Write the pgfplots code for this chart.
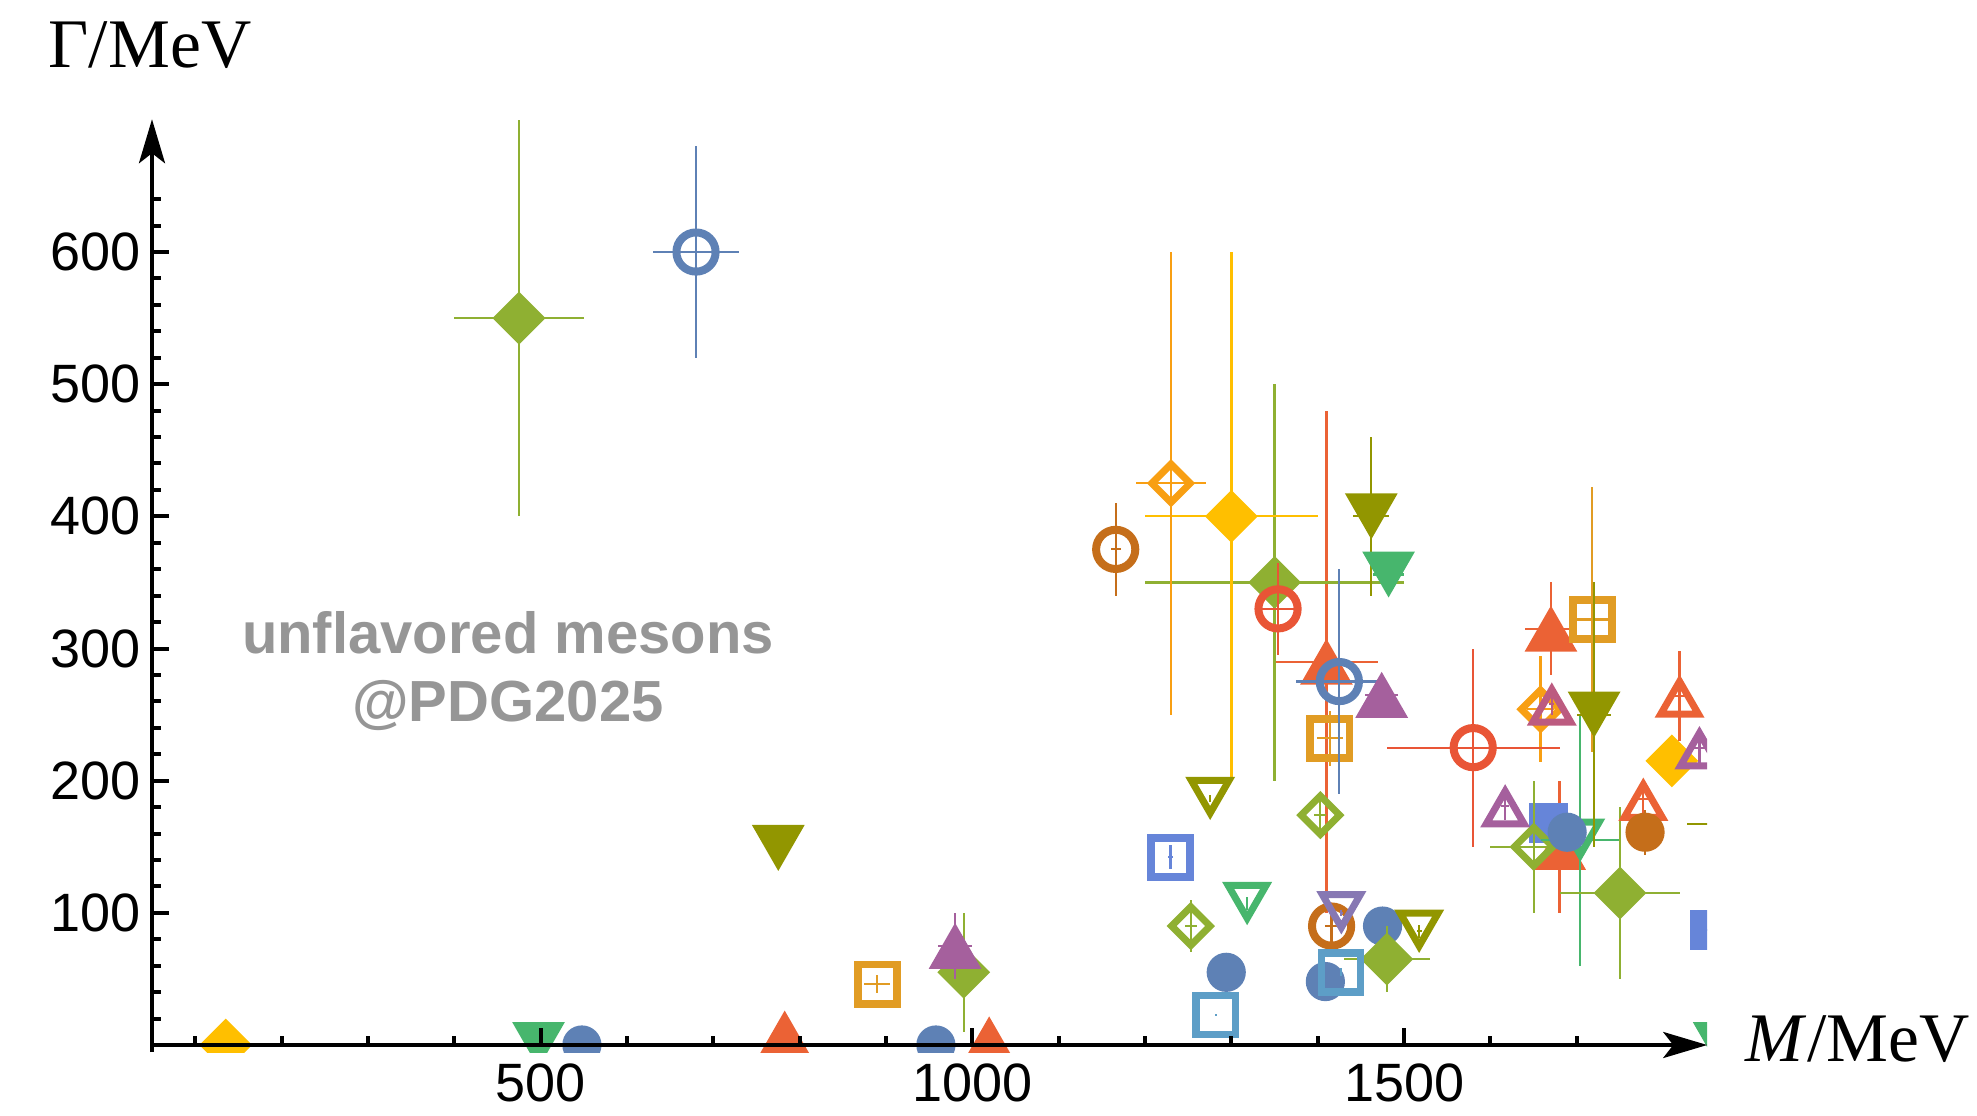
\documentclass[border=0pt]{standalone}
\usepackage{fontspec}
\setmainfont{Liberation Sans}
\newfontfamily\timesfont{Liberation Serif}
\usepackage{pgfplots}
\pgfplotsset{compat=1.18}
\usetikzlibrary{arrows.meta}

\definecolor{cBlue}{rgb}{0.368417,0.506779,0.709798}
\definecolor{cOrange}{rgb}{0.880722,0.611041,0.142051}
\definecolor{cGreen}{rgb}{0.560181,0.691569,0.194885}
\definecolor{cRed}{rgb}{0.922526,0.385626,0.209179}
\definecolor{cPurple}{rgb}{0.528488,0.470624,0.701351}
\definecolor{cBrown}{rgb}{0.772079,0.431554,0.102387}
\definecolor{cLBlue}{rgb}{0.363898,0.618501,0.782349}
\definecolor{cYellow}{rgb}{1,0.75,0}
\definecolor{cMag}{rgb}{0.647624,0.37816,0.614037}
\definecolor{cOlive}{rgb}{0.571589,0.586483,0}
\definecolor{cRedB}{rgb}{0.915,0.3325,0.2125}
\definecolor{cBlueB}{rgb}{0.400822,0.522007,0.85}
\definecolor{cOrangeB}{rgb}{0.972829,0.621644,0.073362}
\definecolor{cPink}{rgb}{0.736783,0.358,0.503027}
\definecolor{cGreenB}{rgb}{0.280264,0.715,0.429209}
\definecolor{textgray}{RGB}{150,150,150}

% filled marks
\pgfdeclareplotmark{fcirc}{\pgfpathcircle{\pgfpointorigin}{4.9pt}\pgfusepathqfill}
\pgfdeclareplotmark{fsq}{\pgfpathrectangle{\pgfpoint{-4.95pt}{-4.95pt}}{\pgfpoint{9.9pt}{9.9pt}}\pgfusepathqfill}
\pgfdeclareplotmark{fdiam}{\pgfpathmoveto{\pgfpoint{0pt}{6.6pt}}\pgfpathlineto{\pgfpoint{6.6pt}{0pt}}\pgfpathlineto{\pgfpoint{0pt}{-6.6pt}}\pgfpathlineto{\pgfpoint{-6.6pt}{0pt}}\pgfpathclose\pgfusepathqfill}
\pgfdeclareplotmark{futri}{\pgfpathmoveto{\pgfpoint{0pt}{5.75pt}}\pgfpathlineto{\pgfpoint{6.6pt}{-5.75pt}}\pgfpathlineto{\pgfpoint{-6.6pt}{-5.75pt}}\pgfpathclose\pgfusepathqfill}
\pgfdeclareplotmark{fdtri}{\pgfpathmoveto{\pgfpoint{0pt}{-5.75pt}}\pgfpathlineto{\pgfpoint{6.6pt}{5.75pt}}\pgfpathlineto{\pgfpoint{-6.6pt}{5.75pt}}\pgfpathclose\pgfusepathqfill}
% open marks
\pgfdeclareplotmark{ocirc}{\pgfsetlinewidth{2pt}\pgfpathcircle{\pgfpointorigin}{4.9pt}\pgfusepathqstroke}
\pgfdeclareplotmark{osq}{\pgfsetlinewidth{1.9pt}\pgfsetmiterjoin\pgfpathrectangle{\pgfpoint{-4.9pt}{-4.9pt}}{\pgfpoint{9.8pt}{9.8pt}}\pgfusepathqstroke}
\pgfdeclareplotmark{odiam}{\pgfsetlinewidth{1.75pt}\pgfsetmiterjoin\pgfpathmoveto{\pgfpoint{0pt}{4.8pt}}\pgfpathlineto{\pgfpoint{4.8pt}{0pt}}\pgfpathlineto{\pgfpoint{0pt}{-4.8pt}}\pgfpathlineto{\pgfpoint{-4.8pt}{0pt}}\pgfpathclose\pgfusepathqstroke}
\pgfdeclareplotmark{outri}{\pgfsetlinewidth{1.75pt}\pgfsetmiterjoin\pgfpathmoveto{\pgfpoint{0pt}{3.66pt}}\pgfpathlineto{\pgfpoint{4.73pt}{-4.53pt}}\pgfpathlineto{\pgfpoint{-4.73pt}{-4.53pt}}\pgfpathclose\pgfusepathqstroke}
\pgfdeclareplotmark{odtri}{\pgfsetlinewidth{1.75pt}\pgfsetmiterjoin\pgfpathmoveto{\pgfpoint{0pt}{-3.66pt}}\pgfpathlineto{\pgfpoint{4.73pt}{4.53pt}}\pgfpathlineto{\pgfpoint{-4.73pt}{4.53pt}}\pgfpathclose\pgfusepathqstroke}

\pgfplotsset{
  eb/.style={only marks, mark options={solid},
    error bars/x dir=both, error bars/x explicit,
    error bars/y dir=both, error bars/y explicit,
    error bars/error mark=none,
    error bars/error bar style={line width=0.55pt}},
}

\begin{document}
\begin{tikzpicture}
\useasboundingbox (-38pt,-15.75pt) rectangle (456.25pt,263pt);
% points just beyond the right limit: drawn in a wider, hidden axis of the same scale, clipped to the main axis box
\begin{scope}
\clip (0pt,0pt) rectangle (388.8pt,233.2pt);
\begin{axis}[
  at={(0pt,0pt)}, anchor=south west,
  scale only axis, width=399.378pt, height=233.2pt,
  xmin=50, xmax=1900, ymin=-5.3, ymax=700.5,
  hide axis, clip=false,
]
\addplot[eb, color=cBlueB, mark=fsq] table[x=x,y=y,x error=ex,y error=ey]{
x y ex ey
1854 87 7 28
};
\addplot[eb, color=cGreenB, mark=fdtri] table[x=x,y=y,x error=ex,y error=ey]{
x y ex ey
1864.8 0 0 0
};
\end{axis}
\end{scope}
\begin{axis}[
  at={(0pt,0pt)}, anchor=south west,
  scale only axis, width=388.8pt, height=233.2pt,
  xmin=50, xmax=1851, ymin=-5.3, ymax=700.5,
  axis x line=middle, axis y line=left,
  axis on top, clip marker paths=true,
  axis line style={line width=1pt, black},
  x axis line style={-{Stealth[length=11pt,width=6.5pt,inset=2.5pt]}},
  y axis line style={-{Stealth[length=11pt,width=6.5pt,inset=2.5pt]}},
  xtick={500,1000,1500}, xticklabels={500,1000,1500},
  minor xtick={100,200,300,400,600,700,800,900,1100,1200,1300,1400,1600,1700},
  ytick={100,200,300,400,500,600}, yticklabels={100,200,300,400,500,600},
  minor ytick={20,40,...,640},
  tick align=inside,
  major tick length=4.25pt, minor tick length=2.2pt,
  tick style={line width=1pt, black},
  ticklabel style={font=\fontsize{13.5}{16}\selectfont},
  xticklabel style={yshift=-1.1pt},
  yticklabel style={xshift=0.6pt},
]
% red filled up triangles
\addplot[eb, color=cRed, mark=futri] table[x=x,y=y,x error=ex,y error=ey]{
x y ex ey
782.66 8.68 0 0
1019.46 4.25 0 0
1410 290 60 190
1670 315 30 35
1680 150 20 50
};
% blue filled squares
\addplot[eb, color=cBlueB, mark=fsq] table[x=x,y=y,x error=ex,y error=ey]{
x y ex ey
1667 168 4 10
};
% green open diamonds
\addplot[eb, color=cGreen, mark=odiam] table[x=x,y=y,x error=ex,y error=ey]{
x y ex ey
1253 90 7 20
1403 174 7 13
1650 150 50 50
};
% green open down triangles
\addplot[eb, color=cGreenB, mark=odtri] table[x=x,y=y,x error=ex,y error=ey]{
x y ex ey
1318.2 107 0.6 5
1704 155 45 95
};
% orange open squares
\addplot[eb, color=cOrange, mark=osq] table[x=x,y=y,x error=ex,y error=ey]{
x y ex ey
890 46 15 7
1414 232 15 21
1718 322 18 100
};
% blue filled circles
\addplot[eb, color=cBlue, mark=fcirc] table[x=x,y=y,x error=ex,y error=ey]{
x y ex ey
547.86 0 0 0
957.78 0 0 0
1294 55 4 5
1408.8 48 2 3
1475 90 4 9
1688.8 161 2 10
};
% green filled diamonds
\addplot[eb, color=cGreen, mark=fdiam] table[x=x,y=y,x error=ex,y error=ey]{
x y ex ey
475 550 75 150
990 55 20 45
1350 350 150 150
1480 65 50 25
1750 115 70 65
};
% yellow filled diamonds
\addplot[eb, color=cYellow, mark=fdiam] table[x=x,y=y,x error=ex,y error=ey]{
x y ex ey
135.5 0 0 0
1300 400 100 200
1810 215 10 8
};
% olive filled down triangles
\addplot[eb, color=cOlive, mark=fdtri] table[x=x,y=y,x error=ex,y error=ey]{
x y ex ey
775.26 149.1 0.25 0.8
1462 400 21 60
1720 250 20 100
};
% green filled down triangles
\addplot[eb, color=cGreenB, mark=fdtri] table[x=x,y=y,x error=ex,y error=ey]{
x y ex ey
497.6 0 0 0
1482 356 18 10
};
% blue open circles
\addplot[eb, color=cBlue, mark=ocirc] table[x=x,y=y,x error=ex,y error=ey]{
x y ex ey
680 600 50 80
1425 275 50 85
};
% purple filled up triangles
\addplot[eb, color=cMag, mark=futri] table[x=x,y=y,x error=ex,y error=ey]{
x y ex ey
980 75 20 25
1474 265 19 13
};
% brown open circles
\addplot[eb, color=cBrown, mark=ocirc] table[x=x,y=y,x error=ex,y error=ey]{
x y ex ey
1166 375 6 35
1416 90 8 15
};
% lavender open down triangle
\addplot[eb, color=cPurple, mark=odtri] table[x=x,y=y,x error=ex,y error=ey]{
x y ex ey
1427.3 100 1.5 2.2
};
% orange open diamonds
\addplot[eb, color=cOrangeB, mark=odiam] table[x=x,y=y,x error=ex,y error=ey]{
x y ex ey
1230 425 40 175
1658 254 16 40
};
% pink open up triangle
\addplot[eb, color=cPink, mark=outri] table[x=x,y=y,x error=ex,y error=ey]{
x y ex ey
1671 258 3 8
};
% blue open square
\addplot[eb, color=cBlueB, mark=osq] table[x=x,y=y,x error=ex,y error=ey]{
x y ex ey
1229.5 142 3.2 9
};
% olive open down triangles
\addplot[eb, color=cOlive, mark=odtri] table[x=x,y=y,x error=ex,y error=ey]{
x y ex ey
1275.4 186.6 0.8 2.4
1517.4 86 3 5
1900 167 72 30
};
% light blue open squares
\addplot[eb, color=cLBlue, mark=osq] table[x=x,y=y,x error=ex,y error=ey]{
x y ex ey
1281.9 22.7 0.5 1.1
1427 55 1 3
};
% red open circles
\addplot[eb, color=cRedB, mark=ocirc] table[x=x,y=y,x error=ex,y error=ey]{
x y ex ey
1354 330 25 35
1580 225 100 75
};
% purple open up triangles
\addplot[eb, color=cMag, mark=outri] table[x=x,y=y,x error=ex,y error=ey]{
x y ex ey
1617 181 5 11
1842 225 8 14
};
% red open up triangles
\addplot[eb, color=cRed, mark=outri] table[x=x,y=y,x error=ex,y error=ey]{
x y ex ey
1777 186 8 14
1819 264 12 34
};
% brown filled circle
\addplot[eb, color=cBrown, mark=fcirc] table[x=x,y=y,x error=ex,y error=ey]{
x y ex ey
1779 161 8 17
};
\end{axis}
\begin{scope}[x=0.25pt,y=0.25pt]
\node[anchor=base, inner sep=0pt, font=\timesfont\fontsize{17.4}{20}\selectfont] at (-2,984) {Γ/MeV};
\node[anchor=base west, inner sep=0pt, font=\timesfont\fontsize{17.4}{20}\selectfont] at (1593,-9.7) {\textit{M}/MeV};
\node[anchor=base, inner sep=0pt, text=textgray, font=\bfseries\fontsize{14.5}{17}\selectfont] at (356,399) {unflavored mesons};
\node[anchor=base, inner sep=0pt, text=textgray, font=\bfseries\fontsize{14.5}{17}\selectfont] at (356,331) {@PDG2025};
\end{scope}
\end{tikzpicture}
\end{document}
